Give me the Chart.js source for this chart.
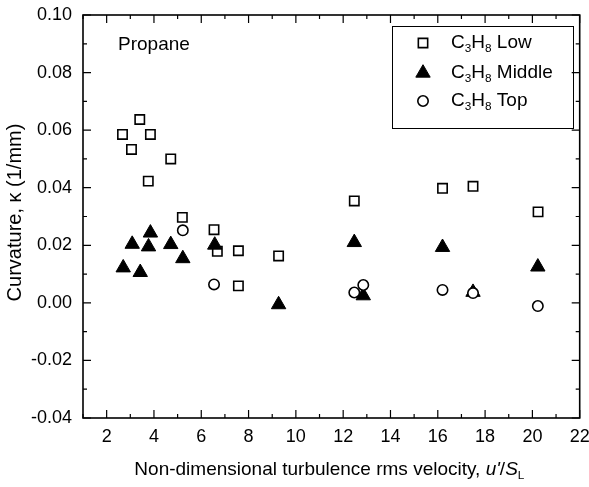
<!DOCTYPE html>
<html>
<head>
<meta charset="utf-8">
<script src="https://cdn.jsdelivr.net/npm/chart.js@4.4.0/dist/chart.umd.min.js"></script>
<style>
  html, body { margin: 0; padding: 0; background: #fff; }
</style>
</head>
<body>
<canvas id="myChart" width="589" height="487"></canvas>
<script>
// Propane curvature data
const lowX = [2.67, 3.05, 3.40, 3.76, 3.85, 4.71, 5.20, 6.54, 6.68, 7.57, 7.57, 9.27, 12.47, 16.2, 17.49, 20.24];
const lowY = [0.0585, 0.0533, 0.0637, 0.0423, 0.0585, 0.0500, 0.0297, 0.0254, 0.0179, 0.0181, 0.0059, 0.0163, 0.0354, 0.0398, 0.0405, 0.0316];

const middleX = [2.70, 3.08, 3.42, 3.77, 3.85, 4.71, 5.22, 6.57, 9.27, 12.47, 12.85, 16.2, 17.49, 20.23];
const middleY = [0.0122, 0.0204, 0.0106, 0.0195, 0.0243, 0.0203, 0.0154, 0.0201, -0.0006, 0.0210, 0.0025, 0.0193, 0.0037, 0.0125];

const topX = [5.22, 6.54, 12.47, 12.85, 16.2, 17.49, 20.23];
const topY = [0.0252, 0.0064, 0.0036, 0.0062, 0.0045, 0.0034, -0.0011];

// axis ranges / tick steps
const xRange = [1, 22];
const xStep = 2;
const yRange = [-0.04, 0.10];
const yStep = 0.02;

const FONT = '"Liberation Sans", Arial, sans-serif';

function toPoints(xs, ys) {
  return xs.map((x, i) => ({ x: x, y: ys[i] }));
}

// marker styles shared by chart and legend
const styles = {
  low: { pointStyle: 'rect', radius: 6.6, borderWidth: 1.6, borderColor: '#000', backgroundColor: '#fff' },
  middle: { pointStyle: 'triangle', radius: 8.3, borderWidth: 1, borderColor: '#000', backgroundColor: '#000' },
  top: { pointStyle: 'circle', radius: 5.2, borderWidth: 1.6, borderColor: '#000', backgroundColor: '#fff' }
};

function dataset(label, xs, ys, s, order) {
  return {
    label: label,
    data: toPoints(xs, ys),
    showLine: false,
    pointStyle: s.pointStyle,
    pointRadius: s.radius,
    pointHoverRadius: s.radius,
    pointBorderWidth: s.borderWidth,
    borderColor: s.borderColor,
    backgroundColor: s.backgroundColor,
    order: order
  };
}

// draws text pieces with italics and subscripts, left to right
function drawRich(ctx, parts, x, y, size) {
  let cx = x;
  parts.forEach(p => {
    const fs = p.sub ? size * 0.62 : size;
    ctx.font = (p.italic ? 'italic ' : '') + fs + 'px ' + FONT;
    ctx.fillText(p.t, cx, p.sub ? y + size * 0.32 : y);
    cx += ctx.measureText(p.t).width;
  });
  return cx - x;
}

function richWidth(ctx, parts, size) {
  let w = 0;
  parts.forEach(p => {
    const fs = p.sub ? size * 0.62 : size;
    ctx.font = (p.italic ? 'italic ' : '') + fs + 'px ' + FONT;
    w += ctx.measureText(p.t).width;
  });
  return w;
}

const framePlugin = {
  id: 'frame',
  afterDraw(chart) {
    const ctx = chart.ctx;
    const a = chart.chartArea;
    const xs = chart.scales.x;
    const ys = chart.scales.y;
    ctx.save();
    ctx.strokeStyle = '#000';
    ctx.fillStyle = '#000';

    // box
    ctx.lineWidth = 1.6;
    ctx.strokeRect(a.left, a.top, a.right - a.left, a.bottom - a.top);

    // inward ticks on all four sides
    ctx.lineWidth = 1.2;
    ctx.beginPath();
    for (let v = xRange[0]; v <= xRange[1]; v++) {
      const px = xs.getPixelForValue(v);
      const len = v % 2 === 0 ? 8 : 4;
      ctx.moveTo(px, a.bottom); ctx.lineTo(px, a.bottom - len);
      ctx.moveTo(px, a.top); ctx.lineTo(px, a.top + len);
    }
    for (let k = -4; k <= 10; k++) {
      const py = ys.getPixelForValue(k / 100);
      const len = k % 2 === 0 ? 8 : 4;
      ctx.moveTo(a.left, py); ctx.lineTo(a.left + len, py);
      ctx.moveTo(a.right, py); ctx.lineTo(a.right - len, py);
    }
    ctx.stroke();

    // annotation
    ctx.textBaseline = 'middle';
    ctx.textAlign = 'left';
    ctx.font = '19px ' + FONT;
    ctx.fillText('Propane', 118, 45);

    // y axis title
    ctx.save();
    ctx.translate(15, (a.top + a.bottom) / 2 - 4);
    ctx.rotate(-Math.PI / 2);
    ctx.textAlign = 'center';
    ctx.font = '20px ' + FONT;
    ctx.fillText('Curvature, \u03ba (1/mm)', 0, 0);
    ctx.restore();

    // x axis title
    const xTitle = [
      { t: 'Non-dimensional turbulence rms velocity, ' },
      { t: "u'", italic: true },
      { t: '/' },
      { t: 'S', italic: true },
      { t: 'L', sub: true }
    ];
    const w = richWidth(ctx, xTitle, 19);
    drawRich(ctx, xTitle, (a.left + a.right) / 2 - 2 - w / 2, 470, 19);

    // legend
    ctx.lineWidth = 1;
    ctx.strokeRect(392.5, 26.5, 181, 102);
    const rows = [
      { s: styles.low, name: ' Low', y: 43 },
      { s: styles.middle, name: ' Middle', y: 73 },
      { s: styles.top, name: ' Top', y: 101 }
    ];
    rows.forEach(r => {
      ctx.strokeStyle = r.s.borderColor;
      ctx.fillStyle = r.s.backgroundColor;
      ctx.lineWidth = r.s.borderWidth;
      Chart.helpers.drawPoint(ctx, { pointStyle: r.s.pointStyle, radius: r.s.radius, borderWidth: r.s.borderWidth, rotation: 0 }, 423, r.y);
      ctx.fillStyle = '#000';
      drawRich(ctx, [{ t: 'C' }, { t: '3', sub: true }, { t: 'H' }, { t: '8', sub: true }, { t: r.name }], 451, r.y, 19);
    });
    ctx.restore();
  }
};

const ctx = document.getElementById('myChart').getContext('2d');
const myChart = new Chart(ctx, {
  type: 'scatter',
  data: {
    datasets: [
      dataset('C3H8 Low', lowX, lowY, styles.low, 3),
      dataset('C3H8 Middle', middleX, middleY, styles.middle, 2),
      dataset('C3H8 Top', topX, topY, styles.top, 1)
    ]
  },
  options: {
    responsive: false,
    animation: false,
    devicePixelRatio: 1,
    layout: { padding: { left: 0, top: 15, right: 8, bottom: 0 } },
    plugins: {
      legend: { display: false },
      tooltip: { enabled: false }
    },
    scales: {
      x: {
        type: 'linear',
        min: xRange[0],
        max: xRange[1],
        border: { display: false },
        grid: { display: false, drawTicks: false },
        ticks: {
          stepSize: xStep,
          includeBounds: false,
          padding: 8,
          color: '#000',
          font: { family: FONT, size: 18 }
        },
        afterFit(scale) {
          scale.height = 69;
          scale.paddingLeft = 0;
          scale.paddingRight = 0;
        }
      },
      y: {
        min: yRange[0],
        max: yRange[1],
        border: { display: false },
        grid: { display: false, drawTicks: false },
        ticks: {
          stepSize: yStep,
          padding: 11,
          color: '#000',
          font: { family: FONT, size: 18 },
          callback: v => v.toFixed(2)
        },
        afterFit(scale) {
          scale.width = 83;
          scale.paddingTop = 0;
          scale.paddingBottom = 0;
        }
      }
    }
  },
  plugins: [framePlugin]
});
</script>
</body>
</html>
